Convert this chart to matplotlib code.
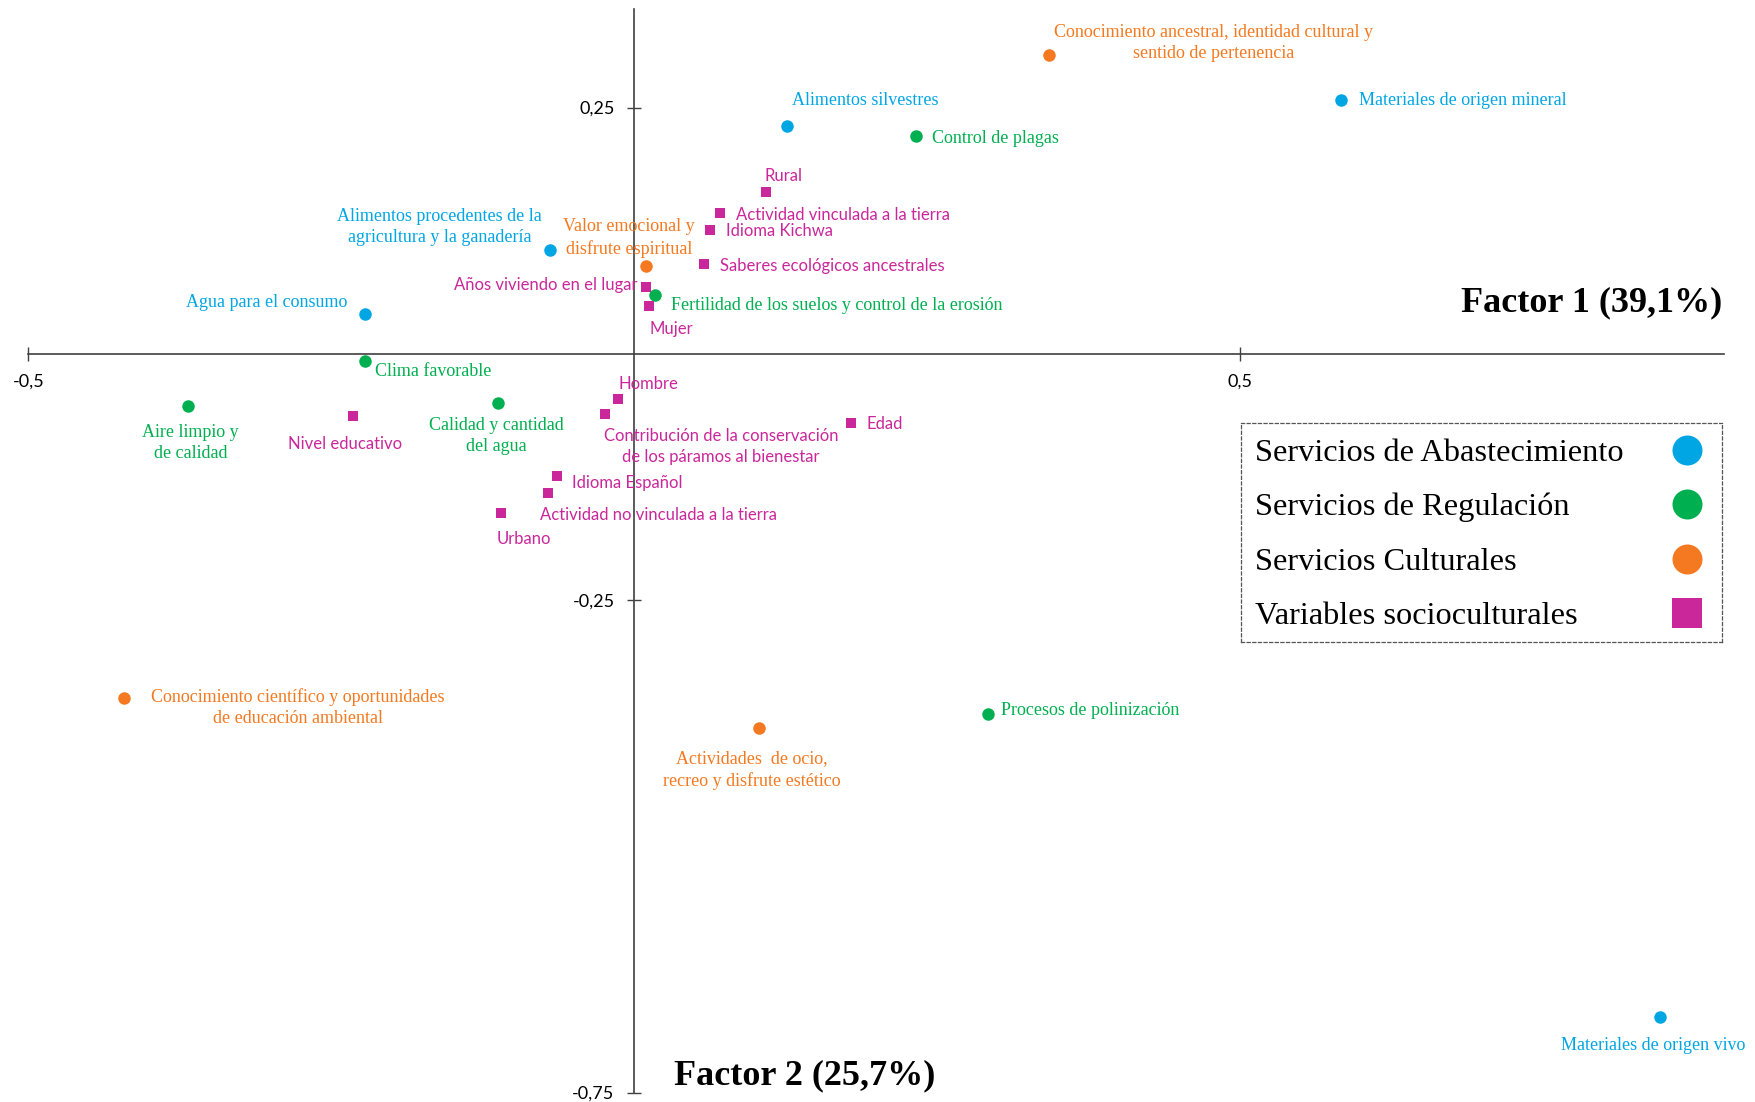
import matplotlib
matplotlib.use("Agg")
import matplotlib.pyplot as plt

# ---- Factor scores (Factor 1, Factor 2) per group ----
abast_labels = ["Alimentos procedentes de la\nagricultura y la ganadería",
                "Agua para el consumo", "Alimentos silvestres",
                "Materiales de origen mineral", "Materiales de origen vivo"]
abast_f1 = [-0.069, -0.222, 0.126, 0.584, 0.847]
abast_f2 = [0.105, 0.040, 0.231, 0.258, -0.673]

regul_labels = ["Control de plagas", "Fertilidad de los suelos y control de la erosión",
                "Clima favorable", "Aire limpio y\nde calidad",
                "Calidad y cantidad\ndel agua", "Procesos de polinización"]
regul_f1 = [0.233, 0.017, -0.222, -0.368, -0.112, 0.292]
regul_f2 = [0.221, 0.060, -0.007, -0.053, -0.050, -0.366]

cult_labels = ["Conocimiento ancestral, identidad cultural y\nsentido de pertenencia",
               "Valor emocional y\ndisfrute espiritual",
               "Conocimiento científico y oportunidades\nde educación ambiental",
               "Actividades  de ocio,\nrecreo y disfrute estético"]
cult_f1 = [0.343, 0.010, -0.421, 0.103]
cult_f2 = [0.303, 0.089, -0.349, -0.380]

socio_labels = ["Rural", "Actividad vinculada a la tierra", "Idioma Kichwa",
                "Saberes ecológicos ancestrales", "Años viviendo en el lugar",
                "Mujer", "Hombre",
                "Contribución de la conservación\nde los páramos al bienestar",
                "Edad", "Nivel educativo", "Idioma Español",
                "Actividad no vinculada a la tierra", "Urbano"]
socio_f1 = [0.109, 0.071, 0.063, 0.058, 0.010, 0.012, -0.013, -0.024,
            0.179, -0.232, -0.064, -0.071, -0.110]
socio_f2 = [0.164, 0.143, 0.126, 0.091, 0.068, 0.048, -0.046, -0.061,
            -0.070, -0.063, -0.124, -0.141, -0.162]

legend_labels = ["Servicios de Abastecimiento", "Servicios de Regulación",
                 "Servicios Culturales", "Variables socioculturales"]

x_ticks = [-0.5, 0.5]
x_ticklabels = ["-0,5", "0,5"]
y_ticks = [0.25, -0.25, -0.75]
y_ticklabels = ["0,25", "-0,25", "-0,75"]

# ---- Label placement: (horizontal alignment, dx px, dy px) ----
abast_place = [("center", -111, 23), ("right", -18, 12), ("left", 5, 26),
               ("left", 18, -1), ("center", -7, -29)]
regul_place = [("left", 16, -2), ("left", 16, -11), ("left", 10, -11),
               ("center", 2, -37), ("center", -2, -33), ("left", 13, 4)]
cult_place = [("center", 164, 12), ("center", -17, 28),
              ("center", 174, -10), ("center", -7, -42)]
socio_place = [("left", -2, 16), ("left", 16, -2), ("left", 16, -1),
               ("left", 16, -2), ("right", -9, 2), ("left", 1, -23),
               ("left", 0, 15), ("center", 116, -33), ("left", 16, -1),
               ("center", -8, -28), ("left", 15, -7), ("left", -8, -22),
               ("left", -4, -26)]

C_BLUE = "#00A6E4"
C_GREEN = "#00B050"
C_ORANGE = "#F47920"
C_MAGENTA = "#C9279A"
SERIF = "Liberation Serif"
SANS = "Lato"

fig = plt.figure(figsize=(17.56, 11.02), dpi=100)
ax = fig.add_axes([0.01623, 0.00862, 0.9655, 0.9832])
ax.set_xlim(-0.5, 0.9)
ax.set_ylim(-0.75, 0.35)

for side in ("top", "right"):
    ax.spines[side].set_visible(False)
for side in ("left", "bottom"):
    ax.spines[side].set_position(("data", 0))
    ax.spines[side].set_color("#404040")
    ax.spines[side].set_linewidth(1.2)

ax.set_xticks(x_ticks)
ax.set_xticklabels(x_ticklabels, fontfamily=SANS, fontsize=13)
ax.set_yticks(y_ticks)
ax.set_yticklabels(y_ticklabels, fontfamily=SANS, fontsize=13)
ax.tick_params(axis="both", direction="inout", length=10, width=1, color="#404040")
ax.tick_params(axis="x", pad=9)
ax.tick_params(axis="y", pad=9)


def draw_group(xs, ys, labels, places, color, marker, size, family, fsize, lsp):
    ax.scatter(xs, ys, s=size ** 2, marker=marker, color=color, linewidths=0, zorder=3)
    for x, y, lab, (ha, dx, dy) in zip(xs, ys, labels, places):
        ax.annotate(lab, xy=(x, y), xytext=(dx, dy), textcoords="offset pixels",
                    ha=ha, va="center", multialignment="center", color=color,
                    fontfamily=family, fontsize=fsize, linespacing=lsp, zorder=4)


draw_group(abast_f1, abast_f2, abast_labels, abast_place, C_BLUE, "o", 9, SERIF, 13, 1.32)
draw_group(regul_f1, regul_f2, regul_labels, regul_place, C_GREEN, "o", 9, SERIF, 13, 1.32)
draw_group(cult_f1, cult_f2, cult_labels, cult_place, C_ORANGE, "o", 9, SERIF, 13, 1.32)
draw_group(socio_f1, socio_f2, socio_labels, socio_place, C_MAGENTA, "s", 6.8, SANS, 12, 1.4)

# Axis titles
ax.annotate("Factor 1 (39,1%)", xy=(0.9, 0.0), xytext=(-2, 51), textcoords="offset pixels",
            ha="right", va="center", fontfamily=SERIF, fontweight="bold", fontsize=26)
ax.annotate("Factor 2 (25,7%)", xy=(0, -0.75), xytext=(40, 0), textcoords="offset pixels",
            ha="left", va="bottom", fontfamily=SERIF, fontweight="bold", fontsize=26)

# Legend box
lax = fig.add_axes([0.7067, 0.4174, 0.2739, 0.1987])
lax.set_xlim(0, 1)
lax.set_ylim(0, 1)
lax.set_xticks([])
lax.set_yticks([])
lax.patch.set_alpha(0)
for sp in lax.spines.values():
    sp.set_linestyle((0, (2.5, 2)))
    sp.set_color("#555555")
    sp.set_linewidth(0.9)
legend_colors = [C_BLUE, C_GREEN, C_ORANGE, C_MAGENTA]
legend_markers = ["o", "o", "o", "s"]
row_y = [0.878, 0.630, 0.380, 0.132]
for lab, col, mk, ry in zip(legend_labels, legend_colors, legend_markers, row_y):
    lax.text(0.029, ry, lab, ha="left", va="center_baseline", fontfamily=SERIF, fontsize=23.3)
    lax.plot([0.927], [ry], marker=mk, markersize=21.6, color=col, linestyle="none",
             markeredgewidth=0)

fig.savefig("out.png", dpi=100)
